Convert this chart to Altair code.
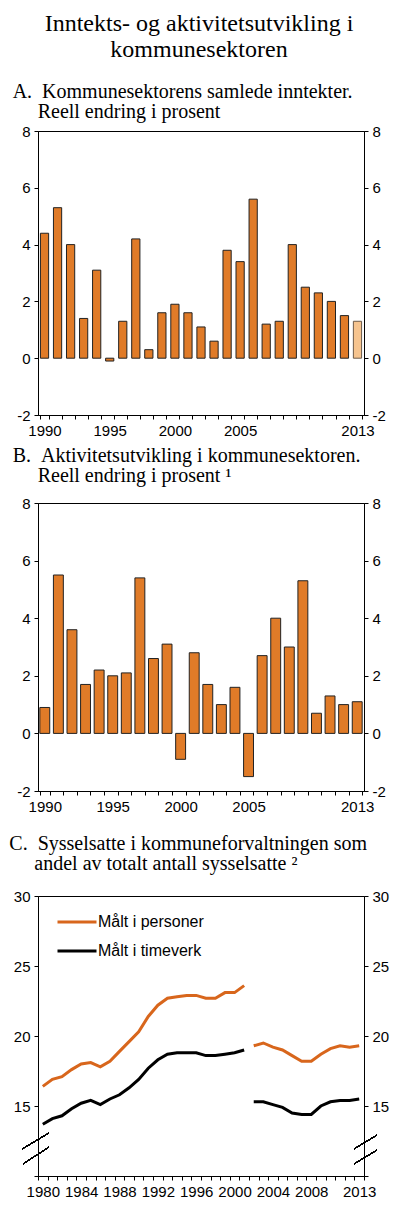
import altair as alt
import pandas as pd

# A. Kommunesektorens samlede inntekter. Reell endring i prosent
years_a = list(range(1990, 2015))
income = [4.4, 5.3, 4.0, 1.4, 3.1, -0.1, 1.3, 4.2, 0.3, 1.6, 1.9, 1.6, 1.1,
          0.6, 3.8, 3.4, 5.6, 1.2, 1.3, 4.0, 2.5, 2.3, 2.0, 1.5, 1.3]
kind_a = ["faktisk"] * 24 + ["anslag"]
ticks_a = {1990: "1990", 1995: "1995", 2000: "2000", 2005: "2005", 2014: "2013"}

# B. Aktivitetsutvikling i kommunesektoren. Reell endring i prosent
years_b = list(range(1990, 2014))
activity = [0.9, 5.5, 3.6, 1.7, 2.2, 2.0, 2.1, 5.4, 2.6, 3.1, -0.9, 2.8,
            1.7, 1.0, 1.6, -1.5, 2.7, 4.0, 3.0, 5.3, 0.7, 1.3, 1.0, 1.1]
kind_b = ["faktisk"] * 24
ticks_b = {1990: "1990", 1995: "1995", 2000: "2000", 2005: "2005", 2013: "2013"}

# C. Sysselsatte i kommuneforvaltningen som andel av totalt antall sysselsatte
years_c = list(range(1980, 2014))
persons = [16.4, 16.9, 17.1, 17.6, 18.0, 18.1, 17.8, 18.2, 18.9, 19.6, 20.3,
           21.4, 22.2, 22.7, 22.8, 22.9, 22.9, 22.7, 22.7, 23.1, 23.1, 23.6,
           19.3, 19.5, 19.2, 19.0, 18.6, 18.2, 18.2, 18.7, 19.1, 19.3, 19.2, 19.3]
hours = [13.7, 14.1, 14.3, 14.8, 15.2, 15.4, 15.1, 15.5, 15.8, 16.3, 16.9,
         17.7, 18.3, 18.7, 18.8, 18.8, 18.8, 18.6, 18.6, 18.7, 18.8, 19.0,
         15.3, 15.3, 15.1, 14.9, 14.5, 14.4, 14.4, 15.0, 15.3, 15.4, 15.4, 15.5]
segment_c = ["1980-2001"] * 22 + ["2002-2013"] * 12
series_names = ["Målt i personer", "Målt i timeverk"]
ticks_c = {1980: "1980", 1984: "1984", 1988: "1988", 1992: "1992", 1996: "1996",
           2000: "2000", 2004: "2004", 2008: "2008", 2013: "2013"}

ORANGE = "#E07B28"
LIGHT = "#F6C48F"
LINE_ORANGE = "#D8661C"
SANS = "Liberation Sans"
SERIF = "Liberation Serif"
NB = "\u00a0"
INDENT = "\u200b" + NB * 5


def label_expr(labels):
    expr = "''"
    for year, text in reversed(list(labels.items())):
        expr = f"datum.value == {year} ? '{text}' : " + expr
    return expr


def y_axes(domain, values, hide=None):
    lab = "'' + datum.value"
    if hide is not None:
        lab = f"datum.value == {hide} ? '' : '' + datum.value"
    left = alt.Y("v:Q", title=None, scale=alt.Scale(domain=domain, nice=False),
                 axis=alt.Axis(values=values, labelExpr=lab, orient="left", grid=False))
    right = alt.Y("v:Q", title=None, scale=alt.Scale(domain=domain, nice=False),
                  axis=alt.Axis(values=values, labelExpr=lab, orient="right", grid=False))
    return left, right


def panel_title(line1, line2, offset):
    return alt.TitleParams(line1, subtitle=line2, anchor="start", frame="bounds",
                           font=SERIF, fontSize=20, fontWeight="normal",
                           subtitleFont=SERIF, subtitleFontSize=20, subtitleColor="#000000",
                           subtitlePadding=0, offset=offset, dx=-4)


def bar_panel(years, values, kinds, labels, pad, height, title):
    df = pd.DataFrame({"year": years, "v": values, "kind": kinds})
    x = alt.X("year:O", title=None,
              scale=alt.Scale(paddingInner=pad, paddingOuter=pad / 2),
              axis=alt.Axis(labelExpr=label_expr(labels), labelAngle=0,
                            tickBand="extent", labelPadding=4))
    yl, yr = y_axes([-2, 8], [-2, 0, 2, 4, 6, 8])
    bars = alt.Chart(df).mark_bar(strokeWidth=1).encode(
        x=x, y=yl,
        fill=alt.Fill("kind:N", legend=None,
                      scale=alt.Scale(domain=["faktisk", "anslag"], range=[ORANGE, LIGHT])),
        stroke=alt.Stroke("kind:N", legend=None,
                          scale=alt.Scale(domain=["faktisk", "anslag"], range=["#222222", "#6b5a4a"])),
    )
    ghost = alt.Chart(df).mark_bar(opacity=0).encode(x=x, y=yr)
    return (alt.layer(bars, ghost)
            .resolve_scale(y="independent", fill="independent", stroke="independent")
            .properties(width=326, height=height, title=title))


chart_a = bar_panel(years_a, income, kind_a, ticks_a, 0.37, 284,
                    panel_title(f"A.{NB}{NB}Kommunesektorens samlede inntekter.",
                                f"{INDENT}Reell endring i prosent", 2))
chart_b = bar_panel(years_b, activity, kind_b, ticks_b, 0.27, 288,
                    panel_title(f"B.{NB}{NB}Aktivitetsutvikling i kommunesektoren.",
                                f"{INDENT}Reell endring i prosent ¹", 10))

rows = []
for i, year in enumerate(years_c):
    rows.append({"year": year, "v": persons[i], "serie": series_names[0], "seg": segment_c[i]})
    rows.append({"year": year, "v": hours[i], "serie": series_names[1], "seg": segment_c[i]})
df_c = pd.DataFrame(rows)

x_c = alt.X("year:O", title=None, bandPosition=0.5,
            scale=alt.Scale(type="band", paddingInner=0, paddingOuter=0),
            axis=alt.Axis(labelExpr=label_expr(ticks_c), labelAngle=0,
                          tickBand="extent", labelPadding=4))
ylc, yrc = y_axes([10, 30], [10, 15, 20, 25, 30], hide=10)
lines = alt.Chart(df_c).mark_line(strokeWidth=3).encode(
    x=x_c, y=ylc, detail="seg:N",
    color=alt.Color("serie:N", title=None,
                    scale=alt.Scale(domain=series_names, range=[LINE_ORANGE, "#000000"]),
                    legend=alt.Legend(orient="none", legendX=18, legendY=770,
                                      symbolType="stroke", symbolStrokeWidth=3,
                                      symbolSize=1521, labelFont=SANS, labelFontSize=16,
                                      labelColor="#000000", labelOffset=0, rowPadding=0)),
)
ghost_c = alt.Chart(df_c).mark_line(opacity=0).encode(x=x_c, y=yrc, detail="serie:N")


def break_mark(x1, x2, y1, y2):
    return alt.Chart(df_c).mark_rule(color="#000000", strokeWidth=1).encode(
        x=alt.value(x1), x2=alt.value(x2), y=alt.value(y1), y2=alt.value(y2))


breaks = [break_mark(-16, 11, 253, 237), break_mark(-15, 11, 268, 251),
          break_mark(316, 339, 253, 239), break_mark(316, 339, 268, 254)]

chart_c = (alt.layer(lines, ghost_c, *breaks)
           .resolve_scale(y="independent")
           .properties(width=326, height=280,
                       title=panel_title(f"C.{NB}{NB}Sysselsatte i kommuneforvaltningen som",
                                         f"{INDENT}andel av totalt antall sysselsatte ²", 15)))

top = alt.vconcat(chart_a, chart_b, spacing=6)
chart = (alt.vconcat(top, chart_c, spacing=18)
         .properties(title=alt.TitleParams("Inntekts- og aktivitetsutvikling i",
                                           subtitle="kommunesektoren",
                                           anchor="middle", font=SERIF, fontSize=24,
                                           fontWeight="normal", subtitleFont=SERIF,
                                           subtitleFontSize=24, subtitleColor="#000000",
                                           subtitlePadding=2, offset=20),
                     padding={"left": 0, "right": 2, "top": 3, "bottom": 2})
         .configure_view(stroke="#000000", strokeWidth=1)
         .configure_axis(labelFont=SANS, labelFontSize=15, labelColor="#000000",
                         domainColor="#000000", tickColor="#000000", tickSize=4,
                         labelPadding=4)
         .configure_title(color="#000000"))

chart.save("out.html", embed_options={"renderer": "svg", "actions": False})
